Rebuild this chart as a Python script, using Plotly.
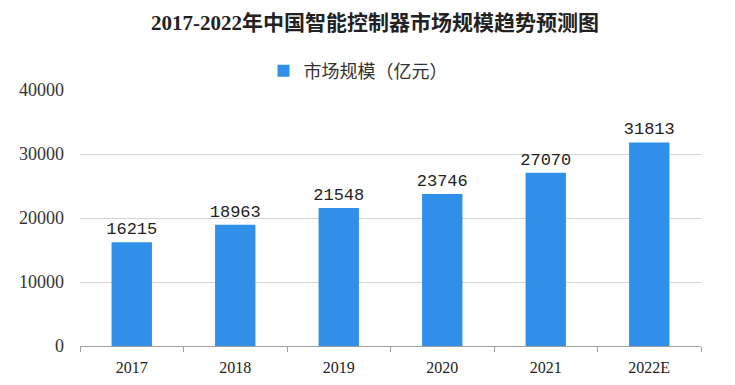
import plotly.graph_objects as go

categories = ["2017", "2018", "2019", "2020", "2021", "2022E"]
values = [16215, 18963, 21548, 23746, 27070, 31813]
y_ticks = [0, 10000, 20000, 30000, 40000]
series_name = "市场规模（亿元）"
title_text = "2017-2022年中国智能控制器市场规模趋势预测图"

num_font = "Liberation Serif, DejaVu Serif, serif"
label_font = "Liberation Mono, Liberation Serif, monospace"
cjk_font = "Noto Sans CJK SC, Noto Sans, sans-serif"

fig = go.Figure()
fig.add_trace(go.Bar(
    x=categories,
    y=values,
    name=series_name,
    marker=dict(color="#2F8FE9", line=dict(width=0)),
    text=[str(v) for v in values],
    textposition="outside",
    constraintext="none",
    textfont=dict(family=label_font, size=17, color="#222222"),
    cliponaxis=False,
    showlegend=True,
))

fig.update_layout(
    width=735,
    height=385,
    margin=dict(l=80, r=34, t=90, b=39, autoexpand=False),
    paper_bgcolor="white",
    plot_bgcolor="white",
    bargap=0.61,
    title=dict(
        text="<b>" + title_text + "</b>",
        x=375 / 735, xref="container", xanchor="center",
        y=1 - 23 / 385, yref="container", yanchor="middle",
        font=dict(family="Liberation Serif, Noto Sans CJK SC, serif", size=21, color="#222222"),
    ),
    legend=dict(
        orientation="h",
        x=(358 - 80) / 621, xref="paper", xanchor="center",
        y=1 + (90 - 71) / 256, yref="paper", yanchor="middle",
        font=dict(family=cjk_font, size=18, color="#333333"),
        itemwidth=30,
        bgcolor="rgba(0,0,0,0)",
    ),
    xaxis=dict(
        type="category",
        showgrid=False,
        showline=True,
        linecolor="#a0a0a0",
        linewidth=1,
        ticks="outside",
        tickson="boundaries",
        ticklen=5,
        tickcolor="#a0a0a0",
        ticklabelstandoff=7,
        tickfont=dict(family=num_font, size=16, color="#222222"),
    ),
    yaxis=dict(
        range=[0, 40000],
        tickvals=y_ticks,
        ticktext=[str(t) for t in y_ticks],
        showgrid=True,
        gridcolor="#d4d4d4",
        gridwidth=1,
        zeroline=False,
        showline=False,
        ticks="",
        ticklabelstandoff=15,
        tickfont=dict(family=num_font, size=18, color="#333333"),
    ),
)

fig.write_html(
    "out.html",
    config={"displayModeBar": False},
    post_script="document.body.style.margin='0';",
)
